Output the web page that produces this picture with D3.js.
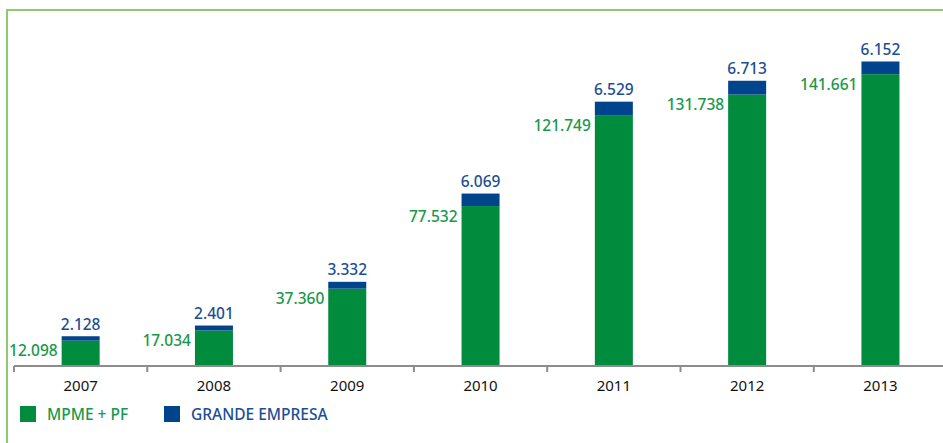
<!DOCTYPE html>
<html>
<head>
<meta charset="utf-8">
<script src="https://cdn.jsdelivr.net/npm/d3@7/dist/d3.min.js"></script>
<style>
  html, body { margin: 0; padding: 0; background: #fff; }
  svg { display: block; font-family: "Noto Sans", "Open Sans", sans-serif; font-weight: 500; }
</style>
</head>
<body>
<svg id="chart" width="943" height="443"></svg>
<script>
// Carteira por segmento, 2007–2013
const years = ["2007", "2008", "2009", "2010", "2011", "2012", "2013"];
const mpmeValues = [12098, 17034, 37360, 77532, 121749, 131738, 141661];
const grandeValues = [2128, 2401, 3332, 6069, 6529, 6713, 6152];
const seriesNames = ["MPME + PF", "GRANDE EMPRESA"];

const GREEN = "#008b3d";
const BLUE = "#00458c";
const GREEN_TEXT = "#17984a";
const BLUE_TEXT = "#1b4e94";

const fmt = v => d3.format(",")(v).replace(/,/g, ".");

const svg = d3.select("#chart");

// frame lines (top and left)
svg.append("line").attr("x1", 7).attr("x2", 943).attr("y1", 10).attr("y2", 10)
  .attr("stroke", "#8fca6e").attr("stroke-width", 2);
svg.append("line").attr("x1", 7).attr("x2", 7).attr("y1", 9).attr("y2", 443)
  .attr("stroke", "#8fca6e").attr("stroke-width", 2);

const x = d3.scaleBand().domain(years).range([14, 14 + 133.3 * years.length]).padding(0);
const y = d3.scaleLinear().domain([0, 150000]).range([365.5, 57]);
const barW = 38;

const data = years.map((yr, i) => ({ yr, a: mpmeValues[i], b: grandeValues[i] }));

const g = svg.append("g");

// green (MPME + PF) segment
g.selectAll("rect.mpme").data(data).join("rect")
  .attr("class", "mpme")
  .attr("x", d => x(d.yr) + x.bandwidth() / 2 - barW / 2)
  .attr("width", barW)
  .attr("y", d => y(d.a))
  .attr("height", d => y(0) - y(d.a))
  .attr("fill", GREEN);

// blue (Grande Empresa) segment stacked on top
g.selectAll("rect.grande").data(data).join("rect")
  .attr("class", "grande")
  .attr("x", d => x(d.yr) + x.bandwidth() / 2 - barW / 2)
  .attr("width", barW)
  .attr("y", d => y(d.a + d.b))
  .attr("height", d => y(d.a) - y(d.a + d.b))
  .attr("fill", BLUE);

// value labels
g.selectAll("text.lab-a").data(data).join("text")
  .attr("class", "lab-a")
  .attr("x", d => x(d.yr) + x.bandwidth() / 2 - barW / 2 - 4)
  .attr("y", d => Math.min(y(d.a) + 15.5, y(0) - 10))
  .attr("text-anchor", "end")
  .attr("font-size", 15.5)
  .attr("fill", GREEN_TEXT)
  .text(d => fmt(d.a));

g.selectAll("text.lab-b").data(data).join("text")
  .attr("class", "lab-b")
  .attr("x", d => x(d.yr) + x.bandwidth() / 2)
  .attr("y", d => y(d.a + d.b) - 6.5)
  .attr("text-anchor", "middle")
  .attr("font-size", 15.5)
  .attr("fill", BLUE_TEXT)
  .text(d => fmt(d.b));

// x axis with ticks at band boundaries
const axisG = svg.append("g");
axisG.append("line")
  .attr("x1", 14).attr("x2", 943)
  .attr("y1", 366).attr("y2", 366)
  .attr("stroke", "#8c8c8c").attr("stroke-width", 2);
axisG.selectAll("line.tick").data(years).join("line")
  .attr("class", "tick")
  .attr("x1", d => x(d)).attr("x2", d => x(d))
  .attr("y1", 366).attr("y2", 372)
  .attr("stroke", "#8c8c8c").attr("stroke-width", 2);
axisG.selectAll("text.year").data(years).join("text")
  .attr("class", "year")
  .attr("x", d => x(d) + x.bandwidth() / 2)
  .attr("y", 391)
  .attr("text-anchor", "middle")
  .attr("font-size", 15)
  .attr("font-weight", 400)
  .attr("fill", "#111")
  .text(d => d);

// legend
const legend = svg.append("g");
const legendItems = [
  { name: seriesNames[0], color: GREEN, text: GREEN_TEXT, x: 20 },
  { name: seriesNames[1], color: BLUE, text: BLUE_TEXT, x: 164 }
];
legendItems.forEach(it => {
  legend.append("rect").attr("x", it.x).attr("y", 406).attr("width", 16).attr("height", 16).attr("fill", it.color);
  legend.append("text").attr("x", it.x + 27).attr("y", 420)
    .attr("font-size", 15.5).attr("fill", it.text).text(it.name);
});
</script>
</body>
</html>
